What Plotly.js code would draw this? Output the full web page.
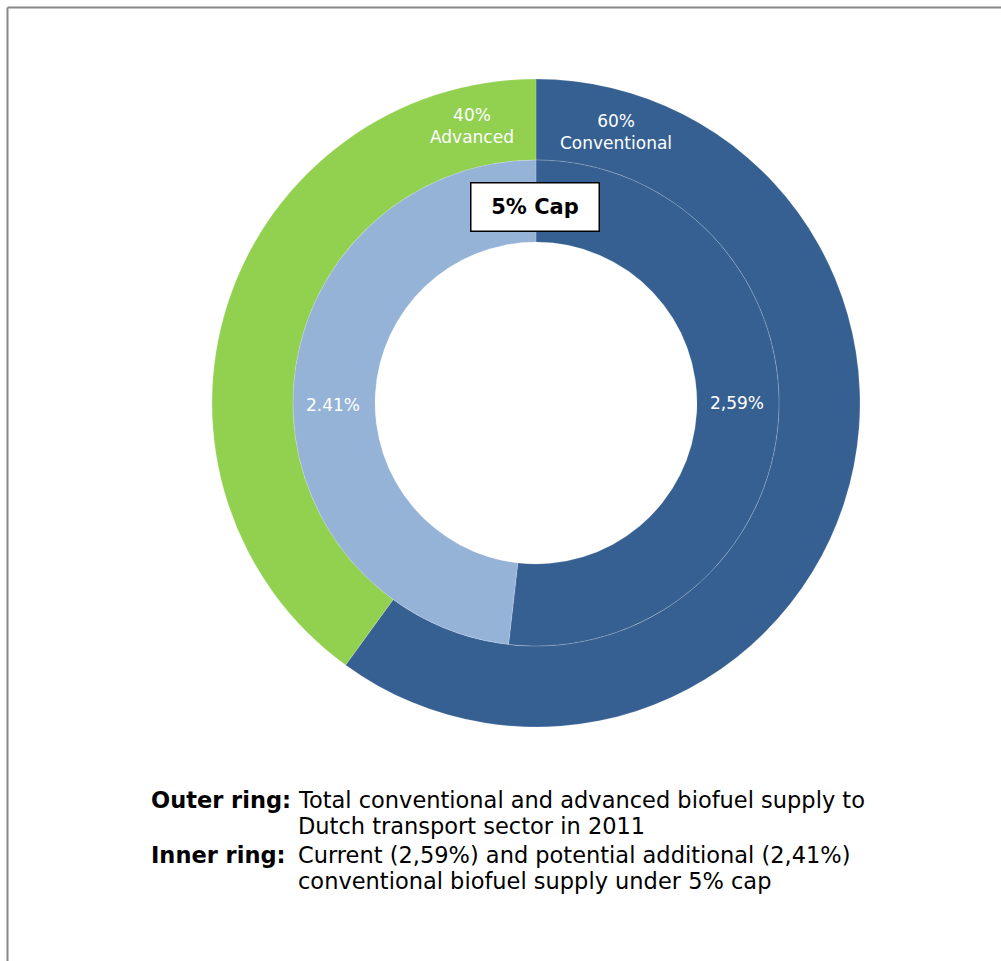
<!DOCTYPE html>
<html>
<head>
<meta charset="utf-8">
<script src="https://cdn.plot.ly/plotly-3.0.1.min.js"></script>
<style>html,body{margin:0;padding:0;background:#fff;}#chart{width:1001px;height:961px;}</style>
</head>
<body>
<div id="chart"></div>
<script>
// Data
const outerLabels = ["Conventional", "Advanced"];
const outerValues = [60, 40];
const innerLabels = ["Current", "Potential additional"];
const innerValues = [2.59, 2.41];
const outerText = ["60%<br>Conventional", "40%<br>Advanced"];
const innerText = ["2,59%", "2.41%"];
const capLabel = "5% Cap";
const noteLabels = ["Outer ring:", "Inner ring:"];
const noteLines = [
  "Total conventional and advanced biofuel supply to",
  "Dutch transport sector in 2011",
  "Current (2,59%) and potential additional (2,41%)",
  "conventional biofuel supply under 5% cap"
];

const W = 1001, H = 961;
const px = x => x / W;
const py = y => 1 - y / H;

const DARK = "#366092", LIGHT = "#95B3D7", GREEN = "#92D050";
const FONT = "DejaVu Sans, Verdana, sans-serif";

const cx = 536, cy = 403, R1 = 324, R2 = 243, R3 = 161;

const outer = {
  type: "pie", labels: outerLabels, values: outerValues, sort: false,
  direction: "clockwise", rotation: 0, hole: R2 / R1,
  marker: {colors: [DARK, GREEN], line: {color: "rgba(255,255,255,0.35)", width: 0.5}},
  textinfo: "none", hoverinfo: "label+percent", showlegend: false,
  domain: {x: [px(cx - R1), px(cx + R1)], y: [py(cy + R1), py(cy - R1)]}
};
const inner = {
  type: "pie", labels: innerLabels, values: innerValues, sort: false,
  direction: "clockwise", rotation: 0, hole: R3 / R2,
  marker: {colors: [DARK, LIGHT], line: {color: "rgba(255,255,255,0.35)", width: 0.5}},
  textinfo: "none", hoverinfo: "label+value", showlegend: false,
  domain: {x: [px(cx - R2), px(cx + R2)], y: [py(cy + R2), py(cy - R2)]}
};

const white = {family: FONT, size: 17, color: "#ffffff"};
const blackF = {family: FONT, size: 22.5, color: "#000000"};

const annotations = [
  {x: px(616), y: py(132), xref: "paper", yref: "paper", text: outerText[0], showarrow: false, font: white, xanchor: "center", yanchor: "middle"},
  {x: px(472), y: py(126), xref: "paper", yref: "paper", text: outerText[1], showarrow: false, font: white, xanchor: "center", yanchor: "middle"},
  {x: px(737), y: py(403), xref: "paper", yref: "paper", text: innerText[0], showarrow: false, font: white, xanchor: "center", yanchor: "middle"},
  {x: px(333), y: py(405), xref: "paper", yref: "paper", text: innerText[1], showarrow: false, font: white, xanchor: "center", yanchor: "middle"},
  {x: px(535), y: py(207.5), xref: "paper", yref: "paper", text: "<b>" + capLabel + "</b>", showarrow: false,
   font: {family: FONT, size: 21, color: "#000"}, bgcolor: "#ffffff", bordercolor: "#000000", borderwidth: 1.5,
   borderpad: 0, width: 127, height: 47, xanchor: "center", yanchor: "middle"},
  {x: px(149), y: py(800), xref: "paper", yref: "paper", text: "<b>" + noteLabels[0] + "</b>", showarrow: false, font: blackF, xanchor: "left", yanchor: "middle"},
  {x: px(149), y: py(855), xref: "paper", yref: "paper", text: "<b>" + noteLabels[1] + "</b>", showarrow: false, font: blackF, xanchor: "left", yanchor: "middle"},
  {x: px(296), y: py(800), xref: "paper", yref: "paper", text: noteLines[0], showarrow: false, font: blackF, xanchor: "left", yanchor: "middle"},
  {x: px(296), y: py(826), xref: "paper", yref: "paper", text: noteLines[1], showarrow: false, font: blackF, xanchor: "left", yanchor: "middle"},
  {x: px(296), y: py(855), xref: "paper", yref: "paper", text: noteLines[2], showarrow: false, font: blackF, xanchor: "left", yanchor: "middle"},
  {x: px(296), y: py(881), xref: "paper", yref: "paper", text: noteLines[3], showarrow: false, font: blackF, xanchor: "left", yanchor: "middle"}
];

const shapes = [
  {type: "line", xref: "paper", yref: "paper", x0: px(7.5), y0: py(7.5), x1: px(1001), y1: py(7.5), line: {color: "#878787", width: 2}},
  {type: "line", xref: "paper", yref: "paper", x0: px(7.5), y0: py(7.5), x1: px(7.5), y1: py(961), line: {color: "#878787", width: 2}}
];

const layout = {
  width: W, height: H, margin: {l: 0, r: 0, t: 0, b: 0},
  paper_bgcolor: "#ffffff", plot_bgcolor: "#ffffff",
  showlegend: false, annotations: annotations, shapes: shapes,
  font: {family: FONT}
};

Plotly.newPlot("chart", [outer, inner], layout, {displayModeBar: false, staticPlot: true});
</script>
</body>
</html>
